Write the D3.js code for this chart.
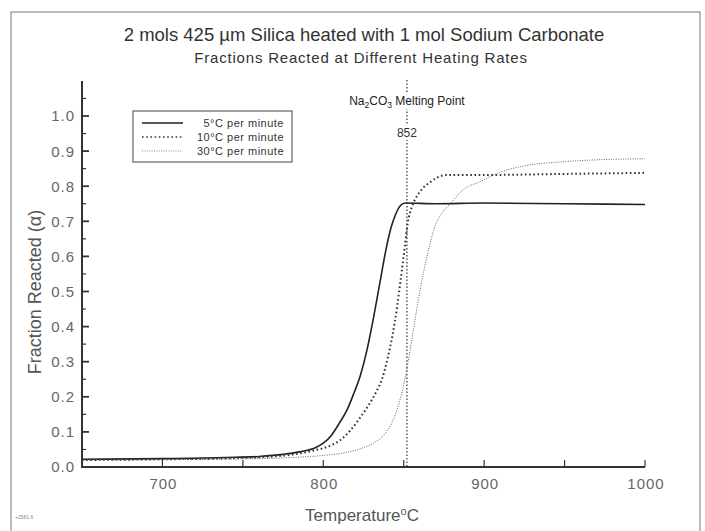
<!DOCTYPE html>
<html>
<head>
<meta charset="utf-8">
<script src="https://cdn.jsdelivr.net/npm/d3@7"></script>
<style>
  body { margin: 0; background: #fff; }
  svg { display: block; font-family: "Liberation Sans", Arial, sans-serif; }
</style>
</head>
<body>
<div id="chart"></div>
<script>
// heating rate series
const temp5 = [650, 700, 740, 760, 775, 785, 795, 800, 805, 810, 815, 819, 823, 827, 831, 835, 839, 842, 845, 848, 851, 870, 900, 950, 1000];
const alpha5 = [0.022, 0.024, 0.027, 0.030, 0.036, 0.043, 0.055, 0.068, 0.09, 0.125, 0.165, 0.21, 0.26, 0.33, 0.42, 0.52, 0.62, 0.68, 0.72, 0.745, 0.752, 0.75, 0.752, 0.75, 0.748];

const temp10 = [650, 700, 750, 780, 795, 804, 810, 817, 822, 828, 833, 836.5, 840, 843, 846, 848, 850.5, 852.5, 855, 858, 862, 866, 871, 877, 900, 950, 1000];
const alpha10 = [0.02, 0.022, 0.026, 0.035, 0.048, 0.06, 0.075, 0.105, 0.135, 0.175, 0.215, 0.25, 0.31, 0.375, 0.46, 0.53, 0.62, 0.695, 0.74, 0.77, 0.795, 0.81, 0.825, 0.832, 0.832, 0.835, 0.838];

const temp30 = [650, 700, 750, 780, 800, 815, 825, 832, 838, 842, 846, 849, 852, 856, 860, 865, 869, 874, 879, 887, 897, 910, 925, 950, 975, 1000];
const alpha30 = [0.02, 0.021, 0.023, 0.027, 0.033, 0.042, 0.055, 0.07, 0.093, 0.12, 0.165, 0.215, 0.28, 0.39, 0.5, 0.61, 0.68, 0.725, 0.75, 0.79, 0.812, 0.84, 0.858, 0.87, 0.876, 0.878];

const seriesNames = ["5\u00B0C per minute", "10\u00B0C per minute", "30\u00B0C per minute"];
const meltingPoint = 852;

const xMajorTicks = [700, 800, 900, 1000];
const xMinorTicks = [650, 750, 850, 950];
const yMajorTicks = [0, 0.1, 0.2, 0.3, 0.4, 0.5, 0.6, 0.7, 0.8, 0.9, 1.0];
const yMinorTicks = [0.05, 0.15, 0.25, 0.35, 0.45, 0.55, 0.65, 0.75, 0.85, 0.95, 1.05];

const width = 705;
const height = 531;
const plotLeft = 82;
const plotRight = 645;
const plotBottom = 467;

const svg = d3.create("svg")
  .attr("viewBox", [0, 0, width, height])
  .attr("width", width)
  .attr("height", height);

svg.append("rect").attr("width", width).attr("height", height).attr("fill", "#fff");

// outer frame of the scanned figure
svg.append("rect")
  .attr("x", 11).attr("y", 12)
  .attr("width", 689).attr("height", 540)
  .attr("fill", "none")
  .attr("stroke", "#777")
  .attr("stroke-width", 1);

const x = d3.scaleLinear().domain([650, 1000]).range([plotLeft, plotRight]);
const y = d3.scaleLinear().domain([0, 1]).range([plotBottom, 116]);

// titles
svg.append("text")
  .attr("x", 364).attr("y", 41)
  .attr("text-anchor", "middle")
  .attr("font-size", 18.5)
  .attr("fill", "#333")
  .text("2 mols 425 \u00B5m Silica heated with 1 mol Sodium Carbonate");

svg.append("text")
  .attr("x", 361).attr("y", 63)
  .attr("text-anchor", "middle")
  .attr("font-family", "'Liberation Sans Narrow', 'Liberation Sans', Arial, sans-serif")
  .attr("font-size", 15)
  .attr("letter-spacing", 0.8)
  .attr("fill", "#333")
  .text("Fractions Reacted at Different Heating Rates");

// melting point marker, with gaps behind its labels
const mx = x(meltingPoint);
svg.append("line")
  .attr("x1", mx).attr("x2", mx)
  .attr("y1", 80).attr("y2", plotBottom)
  .attr("stroke", "#333")
  .attr("stroke-width", 1.2)
  .attr("stroke-dasharray", "1.5,2");

svg.append("rect").attr("x", mx - 8).attr("y", 94).attr("width", 16).attr("height", 15).attr("fill", "#fff");
svg.append("rect").attr("x", mx - 12).attr("y", 124).attr("width", 24).attr("height", 16).attr("fill", "#fff");

const mpLabel = svg.append("text")
  .attr("x", mx).attr("y", 105)
  .attr("text-anchor", "middle")
  .attr("font-family", "'Liberation Sans Narrow', 'Liberation Sans', Arial, sans-serif")
  .attr("font-size", 12)
  .attr("fill", "#222");
mpLabel.append("tspan").text("Na");
mpLabel.append("tspan").attr("font-size", 8.5).attr("dy", 3).text("2");
mpLabel.append("tspan").attr("dy", -3).text("CO");
mpLabel.append("tspan").attr("font-size", 8.5).attr("dy", 3).text("3");
mpLabel.append("tspan").attr("dy", -3).text(" Melting Point");

svg.append("text")
  .attr("x", mx).attr("y", 137)
  .attr("text-anchor", "middle")
  .attr("font-size", 12)
  .attr("fill", "#333")
  .text(meltingPoint);

// curves
const line = d3.line()
  .x((d) => x(d[0]))
  .y((d) => y(d[1]))
  .curve(d3.curveMonotoneX);

const series = [
  { name: seriesNames[0], pts: d3.zip(temp5, alpha5), dash: null, width: 1.6, color: "#222" },
  { name: seriesNames[1], pts: d3.zip(temp10, alpha10), dash: "1.6,2.6", width: 2, color: "#333" },
  { name: seriesNames[2], pts: d3.zip(temp30, alpha30), dash: "1,1.4", width: 0.9, color: "#555" }
];

svg.append("g")
  .selectAll("path")
  .data(series)
  .join("path")
  .attr("d", (d) => line(d.pts))
  .attr("fill", "none")
  .attr("stroke", (d) => d.color)
  .attr("stroke-width", (d) => d.width)
  .attr("stroke-dasharray", (d) => d.dash);

// axes
const axisColor = "#333";
svg.append("line")
  .attr("x1", plotLeft).attr("x2", plotLeft)
  .attr("y1", 81).attr("y2", plotBottom + 1)
  .attr("stroke", axisColor).attr("stroke-width", 2);
svg.append("line")
  .attr("x1", plotLeft - 1).attr("x2", plotRight)
  .attr("y1", plotBottom).attr("y2", plotBottom)
  .attr("stroke", axisColor).attr("stroke-width", 2);

svg.append("g")
  .selectAll("line")
  .data(yMajorTicks.filter((d) => d > 0))
  .join("line")
  .attr("x1", plotLeft).attr("x2", plotLeft + 7)
  .attr("y1", (d) => y(d)).attr("y2", (d) => y(d))
  .attr("stroke", axisColor).attr("stroke-width", 1.8);

svg.append("g")
  .selectAll("line")
  .data(yMinorTicks)
  .join("line")
  .attr("x1", plotLeft).attr("x2", plotLeft + 4)
  .attr("y1", (d) => y(d)).attr("y2", (d) => y(d))
  .attr("stroke", axisColor).attr("stroke-width", 1.2);

svg.append("g")
  .selectAll("line")
  .data(xMajorTicks.concat(xMinorTicks.filter((d) => d > 650)))
  .join("line")
  .attr("x1", (d) => x(d)).attr("x2", (d) => x(d))
  .attr("y1", plotBottom).attr("y2", plotBottom - 7)
  .attr("stroke", axisColor).attr("stroke-width", 1.2);

svg.append("g")
  .selectAll("text")
  .data(yMajorTicks)
  .join("text")
  .attr("x", 75)
  .attr("y", (d) => y(d))
  .attr("dy", "0.36em")
  .attr("text-anchor", "end")
  .attr("font-size", 15)
  .attr("letter-spacing", 1)
  .attr("fill", "#666")
  .text((d) => d3.format(".1f")(d));

svg.append("g")
  .selectAll("text")
  .data(xMajorTicks)
  .join("text")
  .attr("x", (d) => x(d) + 1)
  .attr("y", 489)
  .attr("text-anchor", "middle")
  .attr("font-size", 15)
  .attr("letter-spacing", 1)
  .attr("fill", "#666")
  .text((d) => d);

const xTitle = svg.append("text")
  .attr("x", 362).attr("y", 521)
  .attr("text-anchor", "middle")
  .attr("font-size", 17)
  .attr("fill", "#555");
xTitle.append("tspan").text("Temperature");
xTitle.append("tspan").attr("font-size", 11).attr("dy", -6).text("o");
xTitle.append("tspan").attr("dy", 6).text("C");

svg.append("text")
  .attr("transform", "translate(41,292) rotate(-90)")
  .attr("text-anchor", "middle")
  .attr("font-size", 18)
  .attr("fill", "#555")
  .text("Fraction Reacted (\u03B1)");

// legend
const legend = svg.append("g");
legend.append("rect")
  .attr("x", 133).attr("y", 111)
  .attr("width", 159).attr("height", 51)
  .attr("fill", "#fff")
  .attr("stroke", "#444")
  .attr("stroke-width", 1);

const legendRows = legend.selectAll("g")
  .data(series)
  .join("g")
  .attr("transform", (d, i) => `translate(0,${123 + i * 14})`);

legendRows.append("line")
  .attr("x1", 142).attr("x2", 183)
  .attr("stroke", (d) => d.color)
  .attr("stroke-width", (d) => (d.dash ? d.width * 0.8 : 1.4))
  .attr("stroke-dasharray", (d) => d.dash);

legendRows.append("text")
  .attr("x", 284)
  .attr("dy", "0.35em")
  .attr("text-anchor", "end")
  .attr("font-size", 11)
  .attr("letter-spacing", 0.5)
  .attr("fill", "#333")
  .text((d) => d.name);

// scanner mark in the lower left corner
svg.append("text")
  .attr("x", 15).attr("y", 519)
  .attr("font-size", 5)
  .attr("fill", "#888")
  .text("+2581.6");

d3.select("#chart").append(() => svg.node());
</script>
</body>
</html>
